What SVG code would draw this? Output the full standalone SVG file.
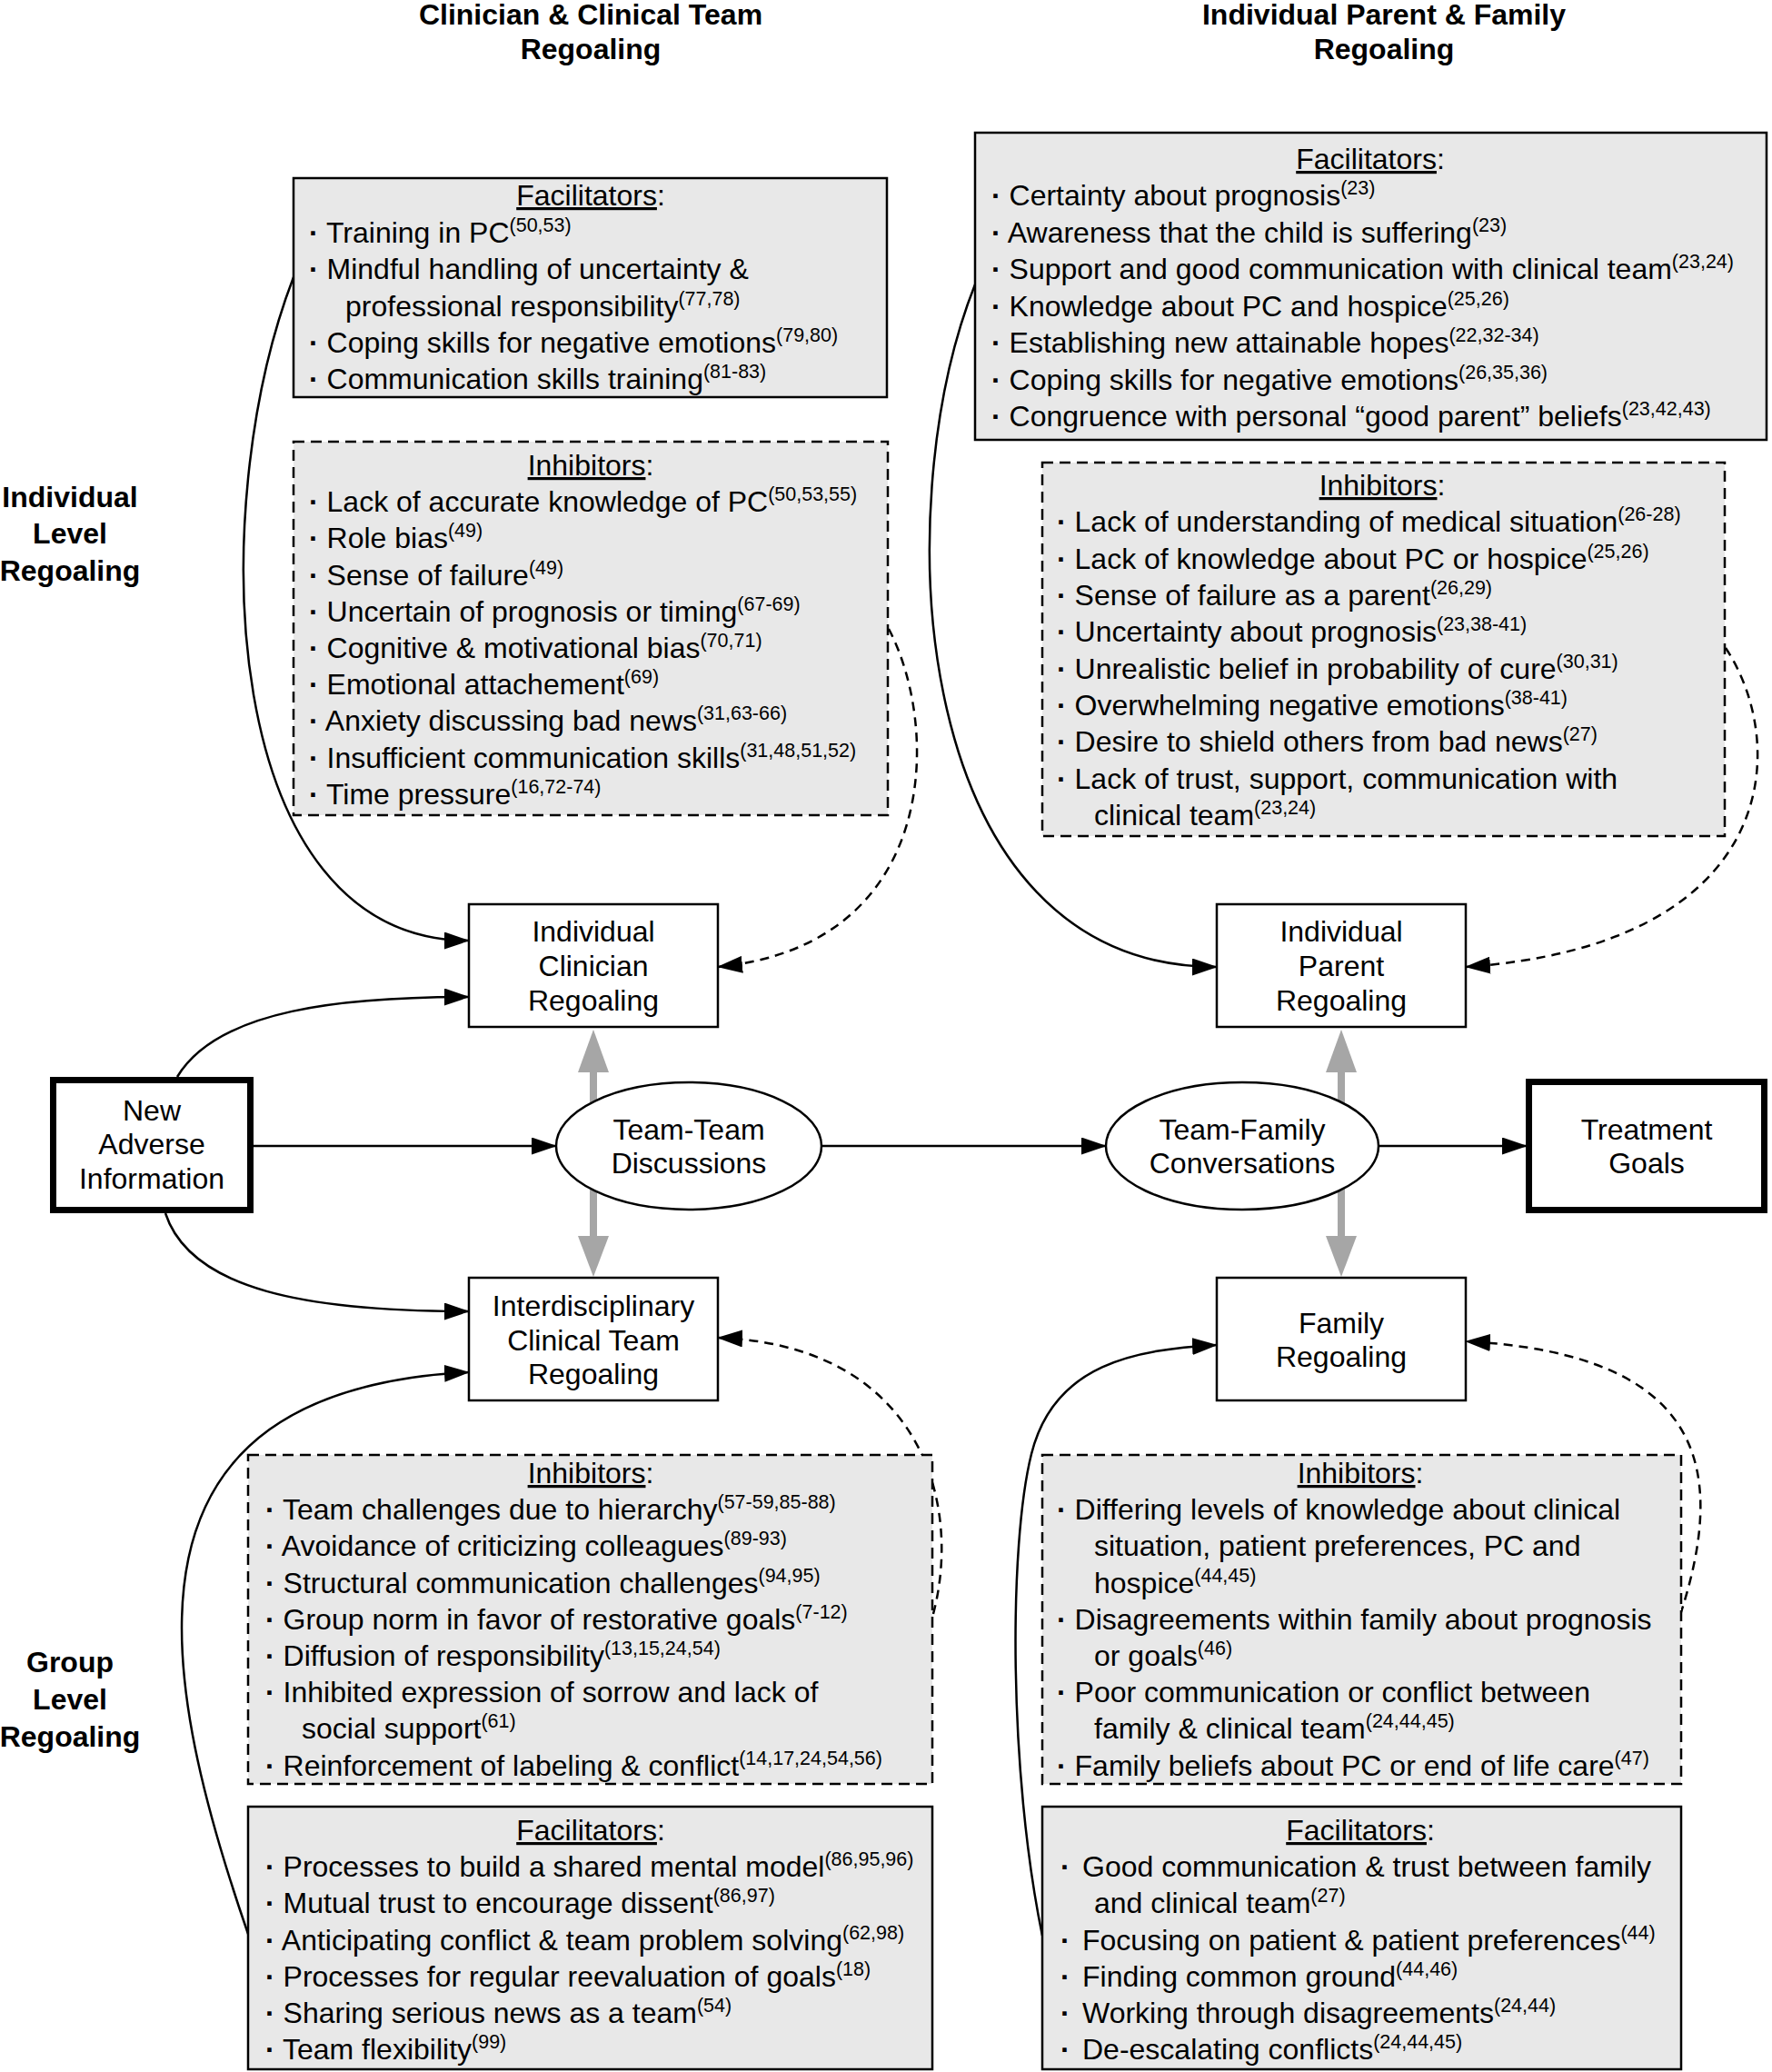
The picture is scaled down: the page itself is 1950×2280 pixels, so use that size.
<svg xmlns="http://www.w3.org/2000/svg" width="1950" height="2280" viewBox="0 0 1950 2280">
<defs>
<style>
text{font-family:"Liberation Sans",Arial,Helvetica,sans-serif;font-size:32px;fill:#000}
.b{font-weight:bold}
.c{text-anchor:middle}
.sup{font-size:21.5px}
.u{text-decoration:underline}
.fac{fill:#e8e8e8;stroke:#000;stroke-width:2.5}
.inh{fill:#e8e8e8;stroke:#000;stroke-width:2.5;stroke-dasharray:12 7}
.node{fill:#fff;stroke:#000;stroke-width:2.5}
.thick{fill:#fff;stroke:#000;stroke-width:7}
.con{fill:none;stroke:#000;stroke-width:2.5;marker-end:url(#ah)}
.dash{stroke-dasharray:10 7}
.gray{fill:#a6a6a6}
</style>
<marker id="ah" viewBox="0 0 28 19" refX="27" refY="9.5" markerWidth="28" markerHeight="19" markerUnits="userSpaceOnUse" orient="auto">
<path d="M0,0 L28,9.5 L0,19 z" fill="#000"/>
</marker>
</defs>
<rect width="1950" height="2280" fill="#fff"/>

<g id="headers">
<text class="b c" x="650" y="27">Clinician &amp; Clinical Team</text>
<text class="b c" x="650" y="65">Regoaling</text>
<text class="b c" x="1523" y="27">Individual Parent &amp; Family</text>
<text class="b c" x="1523" y="65">Regoaling</text>
<text class="b c" x="77" y="558">Individual</text>
<text class="b c" x="77" y="598">Level</text>
<text class="b c" x="77" y="639">Regoaling</text>
<text class="b c" x="77" y="1840">Group</text>
<text class="b c" x="77" y="1881">Level</text>
<text class="b c" x="77" y="1922">Regoaling</text>
</g>

<g id="connectors">
<path class="con" d="M323,305 C225,560 240,1035 516,1035"/>
<path class="con dash" d="M978,692 C1035,800 1035,1040 790,1064"/>
<path class="con" d="M195,1185 C240,1110 380,1097 516,1097"/>
<path class="con" d="M182,1335 C210,1420 340,1443 516,1443"/>
<path class="con" d="M1073,313 C975,560 1000,1064 1339,1064"/>
<path class="con dash" d="M1899,713 C1970,820 1960,1040 1613,1064"/>
<path class="con" d="M273,2128 C170,1830 120,1530 516,1510"/>
<path class="con dash" d="M1027,1776 C1060,1650 1010,1480 790,1472"/>
<path class="con" d="M1147,2130 C1110,1950 1110,1700 1135,1600 S1250,1485 1339,1480"/>
<path class="con dash" d="M1849,1777 C1900,1620 1880,1490 1613,1476"/>
<path class="con" d="M279,1261 L612,1261"/>
<path class="con" d="M904,1261 L1217,1261"/>
<path class="con" d="M1517,1261 L1680,1261"/>
<g class="gray">
<polygon points="653,1133 636,1180 670,1180"/>
<rect x="649" y="1178" width="8" height="184"/>
<polygon points="636,1360 670,1360 653,1405"/>
<polygon points="1476,1133 1459,1180 1493,1180"/>
<rect x="1472" y="1178" width="8" height="184"/>
<polygon points="1459,1360 1493,1360 1476,1405"/>
</g>
</g>

<g id="clin-fac-top">
<rect class="fac" x="323" y="196" width="653" height="241"/>
<text class="c" x="650" y="226"><tspan class="u">Facilitators</tspan>:</text>
<text x="340" y="267"><tspan class="b">·</tspan> Training in PC<tspan class="sup" dy="-12">(50,53)</tspan></text>
<text x="340" y="307"><tspan class="b">·</tspan> Mindful handling of uncertainty &amp;</text>
<text x="380" y="348">professional responsibility<tspan class="sup" dy="-12">(77,78)</tspan></text>
<text x="340" y="388"><tspan class="b">·</tspan> Coping skills for negative emotions<tspan class="sup" dy="-12">(79,80)</tspan></text>
<text x="340" y="428"><tspan class="b">·</tspan> Communication skills training<tspan class="sup" dy="-12">(81-83)</tspan></text>
</g>

<g id="clin-inh-top">
<rect class="inh" x="323" y="486" width="654" height="411"/>
<text class="c" x="650" y="523"><tspan class="u">Inhibitors</tspan>:</text>
<text x="340" y="563"><tspan class="b">·</tspan> Lack of accurate knowledge of PC<tspan class="sup" dy="-12">(50,53,55)</tspan></text>
<text x="340" y="603"><tspan class="b">·</tspan> Role bias<tspan class="sup" dy="-12">(49)</tspan></text>
<text x="340" y="644"><tspan class="b">·</tspan> Sense of failure<tspan class="sup" dy="-12">(49)</tspan></text>
<text x="340" y="684"><tspan class="b">·</tspan> Uncertain of prognosis or timing<tspan class="sup" dy="-12">(67-69)</tspan></text>
<text x="340" y="724"><tspan class="b">·</tspan> Cognitive &amp; motivational bias<tspan class="sup" dy="-12">(70,71)</tspan></text>
<text x="340" y="764"><tspan class="b">·</tspan> Emotional attachement<tspan class="sup" dy="-12">(69)</tspan></text>
<text x="340" y="804"><tspan class="b">·</tspan> Anxiety discussing bad news<tspan class="sup" dy="-12">(31,63-66)</tspan></text>
<text x="340" y="845"><tspan class="b">·</tspan> Insufficient communication skills<tspan class="sup" dy="-12">(31,48,51,52)</tspan></text>
<text x="340" y="885"><tspan class="b">·</tspan> Time pressure<tspan class="sup" dy="-12">(16,72-74)</tspan></text>
</g>

<g id="par-fac-top">
<rect class="fac" x="1073" y="146" width="871" height="338"/>
<text class="c" x="1508" y="186"><tspan class="u">Facilitators</tspan>:</text>
<text x="1091" y="226"><tspan class="b">·</tspan> Certainty about prognosis<tspan class="sup" dy="-12">(23)</tspan></text>
<text x="1091" y="267"><tspan class="b">·</tspan> Awareness that the child is suffering<tspan class="sup" dy="-12">(23)</tspan></text>
<text x="1091" y="307"><tspan class="b">·</tspan> Support and good communication with clinical team<tspan class="sup" dy="-12">(23,24)</tspan></text>
<text x="1091" y="348"><tspan class="b">·</tspan> Knowledge about PC and hospice<tspan class="sup" dy="-12">(25,26)</tspan></text>
<text x="1091" y="388"><tspan class="b">·</tspan> Establishing new attainable hopes<tspan class="sup" dy="-12">(22,32-34)</tspan></text>
<text x="1091" y="429"><tspan class="b">·</tspan> Coping skills for negative emotions<tspan class="sup" dy="-12">(26,35,36)</tspan></text>
<text x="1091" y="469"><tspan class="b">·</tspan> Congruence with personal “good parent” beliefs<tspan class="sup" dy="-12">(23,42,43)</tspan></text>
</g>

<g id="par-inh-top">
<rect class="inh" x="1147" y="509" width="751" height="411"/>
<text class="c" x="1521" y="545"><tspan class="u">Inhibitors</tspan>:</text>
<text x="1163" y="585"><tspan class="b">·</tspan> Lack of understanding of medical situation<tspan class="sup" dy="-12">(26-28)</tspan></text>
<text x="1163" y="626"><tspan class="b">·</tspan> Lack of knowledge about PC or hospice<tspan class="sup" dy="-12">(25,26)</tspan></text>
<text x="1163" y="666"><tspan class="b">·</tspan> Sense of failure as a parent<tspan class="sup" dy="-12">(26,29)</tspan></text>
<text x="1163" y="706"><tspan class="b">·</tspan> Uncertainty about prognosis<tspan class="sup" dy="-12">(23,38-41)</tspan></text>
<text x="1163" y="747"><tspan class="b">·</tspan> Unrealistic belief in probability of cure<tspan class="sup" dy="-12">(30,31)</tspan></text>
<text x="1163" y="787"><tspan class="b">·</tspan> Overwhelming negative emotions<tspan class="sup" dy="-12">(38-41)</tspan></text>
<text x="1163" y="827"><tspan class="b">·</tspan> Desire to shield others from bad news<tspan class="sup" dy="-12">(27)</tspan></text>
<text x="1163" y="868"><tspan class="b">·</tspan> Lack of trust, support, communication with</text>
<text x="1204" y="908">clinical team<tspan class="sup" dy="-12">(23,24)</tspan></text>
</g>

<g id="team-inh-bottom">
<rect class="inh" x="273" y="1601" width="753" height="362"/>
<text class="c" x="650" y="1632"><tspan class="u">Inhibitors</tspan>:</text>
<text x="292" y="1672"><tspan class="b">·</tspan> Team challenges due to hierarchy<tspan class="sup" dy="-12">(57-59,85-88)</tspan></text>
<text x="292" y="1712"><tspan class="b">·</tspan> Avoidance of criticizing colleagues<tspan class="sup" dy="-12">(89-93)</tspan></text>
<text x="292" y="1753"><tspan class="b">·</tspan> Structural communication challenges<tspan class="sup" dy="-12">(94,95)</tspan></text>
<text x="292" y="1793"><tspan class="b">·</tspan> Group norm in favor of restorative goals<tspan class="sup" dy="-12">(7-12)</tspan></text>
<text x="292" y="1833"><tspan class="b">·</tspan> Diffusion of responsibility<tspan class="sup" dy="-12">(13,15,24,54)</tspan></text>
<text x="292" y="1873"><tspan class="b">·</tspan> Inhibited expression of sorrow and lack of</text>
<text x="332" y="1913">social support<tspan class="sup" dy="-12">(61)</tspan></text>
<text x="292" y="1954"><tspan class="b">·</tspan> Reinforcement of labeling &amp; conflict<tspan class="sup" dy="-12">(14,17,24,54,56)</tspan></text>
</g>

<g id="team-fac-bottom">
<rect class="fac" x="273" y="1988" width="753" height="289"/>
<text class="c" x="650" y="2025"><tspan class="u">Facilitators</tspan>:</text>
<text x="292" y="2065"><tspan class="b">·</tspan> Processes to build a shared mental model<tspan class="sup" dy="-12">(86,95,96)</tspan></text>
<text x="292" y="2105"><tspan class="b">·</tspan> Mutual trust to encourage dissent<tspan class="sup" dy="-12">(86,97)</tspan></text>
<text x="292" y="2146"><tspan class="b">·</tspan> Anticipating conflict &amp; team problem solving<tspan class="sup" dy="-12">(62,98)</tspan></text>
<text x="292" y="2186"><tspan class="b">·</tspan> Processes for regular reevaluation of goals<tspan class="sup" dy="-12">(18)</tspan></text>
<text x="292" y="2226"><tspan class="b">·</tspan> Sharing serious news as a team<tspan class="sup" dy="-12">(54)</tspan></text>
<text x="292" y="2266"><tspan class="b">·</tspan> Team flexibility<tspan class="sup" dy="-12">(99)</tspan></text>
</g>

<g id="fam-inh-bottom">
<rect class="inh" x="1147" y="1601" width="703" height="362"/>
<text class="c" x="1497" y="1632"><tspan class="u">Inhibitors</tspan>:</text>
<text x="1163" y="1672"><tspan class="b">·</tspan> Differing levels of knowledge about clinical</text>
<text x="1204" y="1712">situation, patient preferences, PC and</text>
<text x="1204" y="1753">hospice<tspan class="sup" dy="-12">(44,45)</tspan></text>
<text x="1163" y="1793"><tspan class="b">·</tspan> Disagreements within family about prognosis</text>
<text x="1204" y="1833">or goals<tspan class="sup" dy="-12">(46)</tspan></text>
<text x="1163" y="1873"><tspan class="b">·</tspan> Poor communication or conflict between</text>
<text x="1204" y="1913">family &amp; clinical team<tspan class="sup" dy="-12">(24,44,45)</tspan></text>
<text x="1163" y="1954"><tspan class="b">·</tspan> Family beliefs about PC or end of life care<tspan class="sup" dy="-12">(47)</tspan></text>
</g>

<g id="fam-fac-bottom">
<rect class="fac" x="1147" y="1988" width="703" height="289"/>
<text class="c" x="1497" y="2025"><tspan class="u">Facilitators</tspan>:</text>
<text class="b" x="1167" y="2065">·</text><text x="1191" y="2065">Good communication &amp; trust between family</text>
<text x="1204" y="2105">and clinical team<tspan class="sup" dy="-12">(27)</tspan></text>
<text class="b" x="1167" y="2146">·</text><text x="1191" y="2146">Focusing on patient &amp; patient preferences<tspan class="sup" dy="-12">(44)</tspan></text>
<text class="b" x="1167" y="2186">·</text><text x="1191" y="2186">Finding common ground<tspan class="sup" dy="-12">(44,46)</tspan></text>
<text class="b" x="1167" y="2226">·</text><text x="1191" y="2226">Working through disagreements<tspan class="sup" dy="-12">(24,44)</tspan></text>
<text class="b" x="1167" y="2266">·</text><text x="1191" y="2266">De-escalating conflicts<tspan class="sup" dy="-12">(24,44,45)</tspan></text>
</g>

<g id="individual-clinician">
<rect class="node" x="516" y="995" width="274" height="135"/>
<text class="c" x="653" y="1036">Individual</text>
<text class="c" x="653" y="1074">Clinician</text>
<text class="c" x="653" y="1112">Regoaling</text>
</g>
<g id="individual-parent">
<rect class="node" x="1339" y="995" width="274" height="135"/>
<text class="c" x="1476" y="1036">Individual</text>
<text class="c" x="1476" y="1074">Parent</text>
<text class="c" x="1476" y="1112">Regoaling</text>
</g>
<g id="new-adverse">
<rect class="thick" x="58.5" y="1188.5" width="217" height="143"/>
<text class="c" x="167" y="1233">New</text>
<text class="c" x="167" y="1270">Adverse</text>
<text class="c" x="167" y="1308">Information</text>
</g>
<g id="team-team">
<ellipse cx="758" cy="1261" rx="146" ry="70" fill="#fff" stroke="#000" stroke-width="2.5"/>
<text class="c" x="758" y="1254">Team-Team</text>
<text class="c" x="758" y="1291">Discussions</text>
</g>
<g id="team-family">
<ellipse cx="1367" cy="1261" rx="150" ry="70" fill="#fff" stroke="#000" stroke-width="2.5"/>
<text class="c" x="1367" y="1254">Team-Family</text>
<text class="c" x="1367" y="1291">Conversations</text>
</g>
<g id="treatment-goals">
<rect class="thick" x="1682.5" y="1190.5" width="259" height="141"/>
<text class="c" x="1812" y="1254">Treatment</text>
<text class="c" x="1812" y="1291">Goals</text>
</g>
<g id="interdisciplinary-team">
<rect class="node" x="516" y="1406" width="274" height="135"/>
<text class="c" x="653" y="1448">Interdisciplinary</text>
<text class="c" x="653" y="1486">Clinical Team</text>
<text class="c" x="653" y="1523">Regoaling</text>
</g>
<g id="family-regoaling">
<rect class="node" x="1339" y="1406" width="274" height="135"/>
<text class="c" x="1476" y="1467">Family</text>
<text class="c" x="1476" y="1504">Regoaling</text>
</g>
</svg>
